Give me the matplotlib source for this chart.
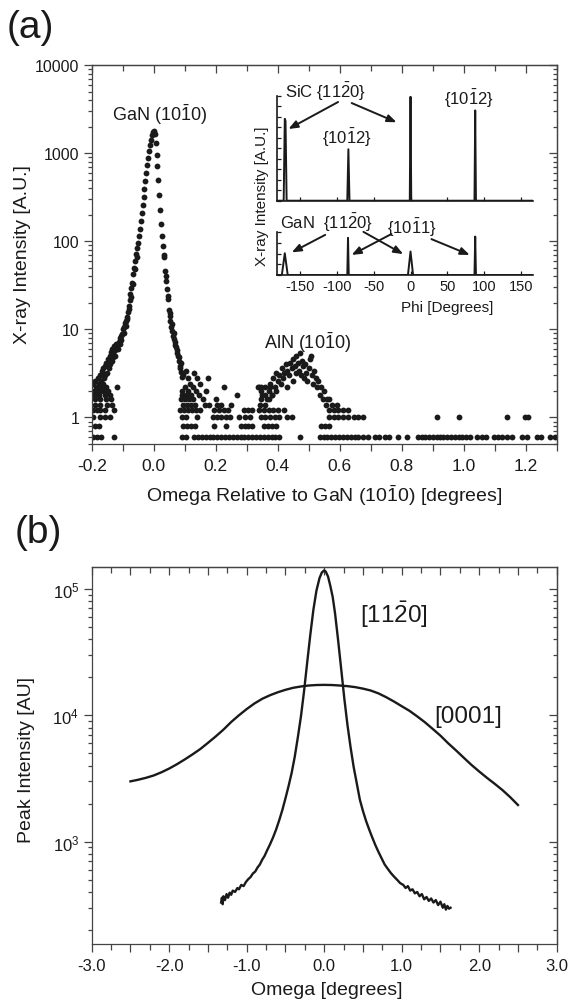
import matplotlib
matplotlib.use('Agg')
import matplotlib.pyplot as plt
from matplotlib.ticker import MultipleLocator, FuncFormatter, LogLocator, NullFormatter

plt.rcParams['font.family'] = ['Liberation Sans', 'DejaVu Sans']
plt.rcParams['mathtext.fontset'] = 'custom'
plt.rcParams['mathtext.rm'] = 'Liberation Sans'
plt.rcParams['mathtext.it'] = 'Liberation Sans:italic'
plt.rcParams['mathtext.bf'] = 'Liberation Sans:bold'
plt.rcParams['mathtext.default'] = 'regular'
plt.rcParams['axes.unicode_minus'] = False

INK = '#1a1a1a'
AXC = '#444444'

# ---- panel (a): omega scan, GaN peak flanks
left_flank_x = [-0.120, -0.117, -0.114, -0.111, -0.108, -0.105, -0.102, -0.099, -0.096, -0.093,
                -0.090, -0.087, -0.084, -0.081, -0.078, -0.075, -0.072, -0.069, -0.066, -0.063,
                -0.060, -0.057, -0.054, -0.051, -0.048, -0.045, -0.042, -0.039, -0.036, -0.033,
                -0.030, -0.027, -0.024, -0.021, -0.018, -0.015, -0.012, -0.009, -0.006, -0.003, 0.000]
left_flank_y = [6.3, 6.6, 6.0, 7.2, 7.9, 8.5, 8.9, 10, 10.5, 11.7,
                12.6, 13.8, 15.8, 18.6, 21.4, 25, 29.5, 34, 42, 50,
                59, 71, 83, 95, 115, 138, 170, 209, 257, 316,
                389, 479, 589, 724, 871, 1047, 1230, 1413, 1585, 1738, 1780]
right_flank_x = [0.003, 0.006, 0.009, 0.012, 0.015, 0.018, 0.021, 0.024, 0.027, 0.030,
                 0.033, 0.036, 0.039, 0.042, 0.045, 0.048, 0.051, 0.054, 0.057, 0.060,
                 0.063, 0.066, 0.069, 0.072, 0.075, 0.078, 0.081, 0.084, 0.087, 0.090]
right_flank_y = [1660, 1318, 955, 708, 501, 331, 224, 158, 115, 89,
                 66, 46, 35, 29, 24, 16.6, 14.1, 12.6, 10.5, 9.5,
                 8.5, 7.8, 7.1, 6.3, 5.8, 5.0, 4.4, 3.8, 3.3, 2.9]
extra_x = [-0.110, -0.104, -0.097, -0.091, -0.085, -0.079, -0.073, -0.067, -0.061, -0.055,
           0.034, 0.040, 0.046, 0.052, 0.058, 0.064, 0.070, 0.076, 0.082,
           0.085, 0.088, 0.095, 0.105, 0.112, 0.118, 0.129, 0.140, 0.150, 0.175]
extra_y = [6.9, 7.6, 9.2, 11.0, 13.2, 17.0, 23, 33, 48, 66,
           70, 40, 22, 15.5, 11.6, 9.0, 6.6, 5.4, 4.9,
           3.6, 4.2, 3.0, 3.4, 2.8, 2.4, 3.2, 2.8, 2.4, 2.8]
tail_x = [-0.197, -0.193, -0.190, -0.186, -0.182, -0.179, -0.177, -0.172, -0.170, -0.168,
          -0.165, -0.163, -0.160, -0.158, -0.156, -0.153, -0.150, -0.147, -0.145, -0.142,
          -0.140, -0.138, -0.136, -0.134, -0.132, -0.130, -0.128, -0.126, -0.124, -0.122]
tail_y = [2.4, 1.8, 2.6, 2.2, 2.0, 2.8, 2.4, 3.0, 2.6, 3.4,
          2.4, 3.6, 2.8, 3.8, 3.0, 4.2, 3.2, 4.6, 3.6, 5.0,
          4.0, 5.6, 4.4, 6.0, 4.8, 5.4, 6.4, 5.0, 5.8, 6.8]
aln_x = [0.336, 0.345, 0.350, 0.360, 0.366, 0.372, 0.375, 0.380,
         0.385, 0.390, 0.395, 0.400, 0.405, 0.410, 0.412, 0.418, 0.420, 0.425, 0.430, 0.428,
         0.435, 0.440, 0.445, 0.448, 0.450, 0.455, 0.458, 0.460, 0.465, 0.468, 0.470, 0.474,
         0.478, 0.480, 0.485, 0.488, 0.490,
         0.495, 0.500, 0.503, 0.506, 0.510, 0.515, 0.518, 0.522, 0.525, 0.530, 0.535, 0.540,
         0.545, 0.550, 0.556, 0.560]
aln_y = [2.2, 2.2, 1.8, 2.2, 1.6, 2.0, 2.4, 1.8,
         2.8, 2.2, 3.2, 2.6, 3.0, 2.4, 3.6, 2.8, 3.2, 4.0, 3.4, 2.2,
         3.0, 4.2, 3.6, 2.6, 4.6, 3.8, 3.2, 5.0, 4.2, 3.4, 5.4, 3.0,
         4.4, 3.8, 2.8, 4.0, 3.2,
         2.6, 3.6, 4.6, 5.0, 3.0, 2.4, 3.4, 2.8, 2.2, 2.6, 1.8, 2.2,
         1.6, 2.0, 1.4, 1.6]

# quantised low-count levels
levels = [0.6, 0.8, 1.0, 1.2, 1.4, 1.6, 1.8, 2.0, 2.2]
base06_x = [-0.195, -0.183, -0.171, -0.128, 0.090, 0.103,
            0.130, 0.142, 0.155, 0.167, 0.180, 0.192, 0.205, 0.217, 0.230, 0.242, 0.255,
            0.267, 0.280, 0.292, 0.305, 0.317, 0.330, 0.342, 0.355, 0.367, 0.380, 0.392, 0.405,
            0.472,
            0.535, 0.548, 0.560, 0.573, 0.585, 0.598, 0.610, 0.623, 0.635, 0.648, 0.660, 0.673, 0.690,
            0.712, 0.725, 0.745, 0.757, 0.787, 0.815,
            0.852, 0.864, 0.876, 0.888, 0.900, 0.912, 0.924, 0.934,
            0.947, 0.959, 0.971, 0.983, 0.995, 1.007, 1.018,
            1.043, 1.057, 1.071, 1.096, 1.110, 1.124, 1.140, 1.156,
            1.187, 1.203, 1.234, 1.250, 1.278, 1.294]
base08_x = [-0.190, -0.175, 0.095, 0.107, 0.120, 0.133, 0.193, 0.233, 0.280, 0.293, 0.305, 0.318,
            0.355, 0.368, 0.380, 0.393, 0.540, 0.553, 0.566]
base10_x = [-0.195, -0.173, -0.157, -0.141, 0.090, 0.103, 0.140, 0.190, 0.205, 0.218, 0.232, 0.245,
            0.275, 0.295, 0.310, 0.345, 0.360, 0.375, 0.390, 0.405, 0.430, 0.445,
            0.565, 0.580, 0.595, 0.610, 0.625, 0.645, 0.660, 0.675,
            0.913, 0.984, 1.140, 1.197, 1.208]
base12_x = [-0.195, -0.183, -0.173, -0.157, -0.128, 0.085, 0.097, 0.110, 0.123, 0.135, 0.148,
            0.195, 0.210, 0.225, 0.240, 0.290, 0.305, 0.318, 0.340, 0.355, 0.370, 0.385, 0.400,
            0.420, 0.565, 0.580, 0.595, 0.610, 0.625]
base14_x = [-0.190, -0.173, -0.152, -0.136, 0.095, 0.108, 0.120, 0.132, 0.165, 0.178, 0.205,
            0.218, 0.250, 0.342, 0.358, 0.575, 0.590]
base16_x = [-0.188, -0.172, -0.155, -0.138, 0.088, 0.100, 0.115, 0.128, 0.160, 0.200, 0.345,
            0.370, 0.565]
base18_x = [-0.190, -0.176, -0.158, -0.140, 0.090, 0.105, 0.120, 0.145, 0.268, 0.360, 0.380]
base20_x = [-0.193, -0.178, -0.162, -0.146, 0.092, 0.110, 0.135, 0.170, 0.345, 0.395]
base22_x = [-0.170, -0.155, -0.118, 0.100, 0.125, 0.227, 0.340, 0.375]
level_x = [base06_x, base08_x, base10_x, base12_x, base14_x, base16_x, base18_x, base20_x, base22_x]

# ---- inset: phi scans
sic_phi = [-182, -172.5, -171, -170, -168.5, -86, -84.5, -83, -1, 0, 1, 87, 88, 89, 167]
sic_int = [0, 0, 0.78, 0.76, 0, 0, 0.49, 0, 0, 0.99, 0, 0, 0.86, 0, 0]
gan_phi = [-182, -175, -171, -167, -86, -85, -84, -3.5, 0, 3.5, 87, 88, 89, 167]
gan_int = [0, 0, 0.51, 0, 0, 0.87, 0, 0, 0.55, 0, 0, 0.90, 0, 0]

# ---- panel (b): rocking curves
c1120_x = [-1.33, -1.32, -1.31, -1.30, -1.28, -1.26, -1.24, -1.22, -1.20, -1.18, -1.15, -1.12,
           -1.10, -1.07, -1.04, -1.01, -0.98, -0.95, -0.92, -0.89, -0.86, -0.83, -0.80, -0.77,
           -0.74, -0.70, -0.66, -0.62, -0.58, -0.54, -0.50, -0.46, -0.42, -0.38, -0.34, -0.30,
           -0.26, -0.22, -0.18, -0.14, -0.10, -0.06, -0.03, 0.00, 0.02, 0.05, 0.08, 0.11, 0.14,
           0.18, 0.22, 0.26, 0.30, 0.34, 0.38, 0.42, 0.46, 0.50, 0.54, 0.58, 0.62, 0.66, 0.70,
           0.74, 0.78, 0.82, 0.86, 0.90, 0.94, 0.98, 1.02, 1.05, 1.08, 1.11, 1.14, 1.17, 1.20,
           1.23, 1.26, 1.29, 1.32, 1.35, 1.38, 1.41, 1.44, 1.47, 1.50, 1.53, 1.55, 1.57, 1.59,
           1.61, 1.63]
c1120_y = [330, 360, 320, 370, 345, 385, 360, 395, 380, 410, 400, 430,
           420, 455, 445, 480, 505, 525, 560, 580, 625, 660, 720, 770,
           845, 950, 1080, 1250, 1480, 1780, 2200, 2750, 3500, 4700, 6700, 9800,
           15500, 26000, 43000, 68000, 97000, 122000, 135000, 140000, 137000, 125000, 105000, 86000, 64000,
           39000, 23000, 13500, 8400, 5600, 3900, 2900, 2150, 1750, 1460, 1250, 1080, 940, 830,
           740, 660, 610, 565, 530, 500, 470, 455, 430, 445, 410, 420, 390, 400,
           370, 385, 350, 365, 340, 355, 330, 345, 315, 335, 300, 320, 290, 310,
           295, 300]
c0001_x = [-2.5, -2.4, -2.3, -2.2, -2.1, -2.0, -1.9, -1.8, -1.7, -1.6, -1.5, -1.4, -1.3, -1.2,
           -1.1, -1.0, -0.9, -0.8, -0.7, -0.6, -0.5, -0.4, -0.3, -0.2, -0.1, 0.0, 0.1, 0.2,
           0.3, 0.4, 0.5, 0.6, 0.7, 0.8, 0.9, 1.0, 1.1, 1.2, 1.3, 1.4, 1.5, 1.6, 1.7, 1.8,
           1.9, 2.0, 2.1, 2.2, 2.3, 2.4, 2.5]
c0001_y = [3000, 3090, 3200, 3340, 3540, 3790, 4100, 4470, 4900, 5400, 6050, 6800, 7700, 8850,
           10000, 11200, 12400, 13500, 14400, 15200, 15900, 16500, 16900, 17200, 17350, 17400, 17350, 17200,
           17000, 16700, 16250, 15700, 14900, 13900, 12850, 11800, 10850, 9800, 8800, 7800, 6900, 6000,
           5280, 4620, 4050, 3590, 3200, 2870, 2560, 2250, 1950]

W, H = 568.0, 1004.0


def fx(px):
    return px / W


def fy(py):
    return 1.0 - py / H


def style_frame(ax):
    for s in ax.spines.values():
        s.set_color(AXC)
        s.set_linewidth(0.9)


def mirror_ticks(ax, xmaj, xmin):
    # top and right ticks point inward, bottom and left point outward
    top = ax.secondary_xaxis('top')
    top.xaxis.set_major_locator(MultipleLocator(xmaj))
    top.xaxis.set_minor_locator(MultipleLocator(xmin))
    top.tick_params(which='both', direction='in', labeltop=False, color=AXC, width=0.9)
    top.tick_params(which='major', length=6)
    top.tick_params(which='minor', length=4)
    right = ax.secondary_yaxis('right')
    right.yaxis.set_major_locator(LogLocator(base=10, numticks=12))
    right.yaxis.set_minor_locator(LogLocator(base=10, subs=(2, 3, 4, 5, 6, 7, 8, 9), numticks=12))
    right.yaxis.set_minor_formatter(NullFormatter())
    right.tick_params(which='both', direction='in', labelright=False, color=AXC, width=0.9)
    right.tick_params(which='major', length=6)
    right.tick_params(which='minor', length=3)
    for sec in (top, right):
        for s in sec.spines.values():
            s.set_color(AXC)
            s.set_linewidth(0.9)


def fmt1(v, p):
    return '%.1f' % (0.0 if abs(v) < 1e-9 else v)


fig = plt.figure(figsize=(5.68, 10.04), dpi=100)

# ================= panel (a)
ax_a = fig.add_axes([fx(91.7), fy(445), (557 - 91.7) / W, (445 - 66) / H])
dot = dict(ls='none', marker='o', ms=4.2, mew=0, color=INK)
ax_a.plot(left_flank_x, left_flank_y, **dot)
ax_a.plot(right_flank_x, right_flank_y, **dot)
ax_a.plot(extra_x, extra_y, **dot)
ax_a.plot(tail_x, tail_y, **dot)
ax_a.plot(aln_x, aln_y, **dot)
for lv, xs in zip(levels, level_x):
    ax_a.plot(xs, [lv] * len(xs), **dot)

ax_a.set_yscale('log')
ax_a.set_xlim(-0.2, 1.3)
ax_a.set_ylim(0.5, 10000)
ax_a.xaxis.set_major_locator(MultipleLocator(0.2))
ax_a.xaxis.set_minor_locator(MultipleLocator(0.1))
ax_a.xaxis.set_major_formatter(FuncFormatter(fmt1))
ax_a.yaxis.set_major_locator(LogLocator(base=10, numticks=12))
ax_a.yaxis.set_minor_locator(LogLocator(base=10, subs=(2, 3, 4, 5, 6, 7, 8, 9), numticks=12))
ax_a.yaxis.set_major_formatter(FuncFormatter(lambda v, p: '%g' % v))
ax_a.yaxis.set_minor_formatter(NullFormatter())
ax_a.tick_params(which='both', direction='out', color=AXC, labelcolor=INK, width=0.9)
ax_a.tick_params(axis='x', which='both', length=5, pad=5, labelsize=12.5)
ax_a.tick_params(axis='y', which='major', length=6, pad=3, labelsize=11.5)
ax_a.tick_params(axis='y', which='minor', length=3)
style_frame(ax_a)
mirror_ticks(ax_a, 0.2, 0.1)

ax_a.text(0.018, 2770, r'GaN (10$\bar{1}$0)', ha='center', va='center', fontsize=13, color=INK)
ax_a.text(0.494, 7.3, r'AlN (10$\bar{1}$0)', ha='center', va='center', fontsize=13, color=INK)

# ================= inset
ins_w = (533.3 - 276.7) / W
ins_top = fig.add_axes([fx(276.7), fy(201.7), ins_w, (201.7 - 96.7) / H])
ins_bot = fig.add_axes([fx(276.7), fy(276), ins_w, (276 - 233.3) / H])
ins_top.plot(sic_phi, sic_int, color=INK, lw=1.4)
ins_bot.plot(gan_phi, gan_int, color=INK, lw=1.4)
for ax, ystep in ((ins_top, 0.1), (ins_bot, 0.25)):
    ax.set_facecolor('none')
    ax.set_xlim(-182, 167)
    ax.set_ylim(0, 1)
    ax.spines['top'].set_visible(False)
    ax.spines['right'].set_visible(False)
    for s in ('left', 'bottom'):
        ax.spines[s].set_color(INK)
        ax.spines[s].set_linewidth(1.2)
    ax.xaxis.set_major_locator(MultipleLocator(50))
    ax.yaxis.set_major_locator(MultipleLocator(ystep))
    ax.tick_params(which='both', direction='in', length=3, color=INK, width=0.9,
                   labelleft=False, labelsize=10.5, labelcolor=INK, pad=3)
ins_top.tick_params(labelbottom=False)

arrow = dict(arrowstyle='-|>,head_length=0.55,head_width=0.22', color=INK, lw=1.4,
             shrinkA=0, shrinkB=0)
ins_top.text(-115, 1.045, r'SiC {11$\bar{2}$0}', ha='center', va='center', fontsize=12, color=INK)
ins_top.annotate('', xy=(-166, 0.683), xytext=(-98.5, 0.94), arrowprops=arrow)
ins_top.annotate('', xy=(-19, 0.747), xytext=(-80, 0.93), arrowprops=arrow)
ins_top.text(-86.5, 0.607, r'{10$\bar{1}$2}', ha='center', va='center', fontsize=12, color=INK)
ins_top.text(79, 0.975, r'{10$\bar{1}$2}', ha='center', va='center', fontsize=12, color=INK)

ins_bot.text(-114, 1.25, r'GaN  {11$\bar{2}$0}', ha='center', va='center', fontsize=12, color=INK)
ins_bot.text(1.4, 1.12, r'{10$\bar{1}$1}', ha='center', va='center', fontsize=12, color=INK)
ins_bot.annotate('', xy=(-161.5, 0.53), xytext=(-116, 0.94), arrowprops=arrow, annotation_clip=False)
ins_bot.annotate('', xy=(-10, 0.49), xytext=(-64, 1.01), arrowprops=arrow, annotation_clip=False)
ins_bot.annotate('', xy=(-80, 0.47), xytext=(-26, 0.96), arrowprops=arrow, annotation_clip=False)
ins_bot.annotate('', xy=(80.5, 0.47), xytext=(28.5, 0.84), arrowprops=arrow, annotation_clip=False)

fig.text(fx(261.7), fy(196), 'X-ray Intensity [A.U.]', rotation=90, ha='center', va='center',
         fontsize=11, color=INK)
fig.text(fx(447), fy(308), 'Phi [Degrees]', ha='center', va='center', fontsize=11, color=INK)

# ================= panel (b)
ax_b = fig.add_axes([fx(91.7), fy(945), (556.7 - 91.7) / W, (945 - 568) / H])
ax_b.plot(c0001_x, c0001_y, color=INK, lw=1.7)
ax_b.plot(c1120_x, c1120_y, color=INK, lw=1.7)
ax_b.set_yscale('log')
ax_b.set_xlim(-3, 3)
ax_b.set_ylim(155, 1.49e5)
ax_b.xaxis.set_major_locator(MultipleLocator(0.5))
ax_b.xaxis.set_minor_locator(MultipleLocator(0.25))
ax_b.xaxis.set_major_formatter(FuncFormatter(
    lambda v, p: fmt1(v, p) if abs(v - round(v)) < 1e-6 else ''))
ax_b.yaxis.set_major_locator(LogLocator(base=10, numticks=12))
ax_b.yaxis.set_minor_locator(LogLocator(base=10, subs=(2, 3, 4, 5, 6, 7, 8, 9), numticks=12))
ax_b.yaxis.set_minor_formatter(NullFormatter())
ax_b.tick_params(which='both', direction='out', color=AXC, labelcolor=INK, width=0.9, labelsize=12)
ax_b.tick_params(axis='x', which='major', length=6, pad=4)
ax_b.tick_params(axis='x', which='minor', length=4)
ax_b.tick_params(axis='y', which='major', length=6, pad=3)
ax_b.tick_params(axis='y', which='minor', length=3)
style_frame(ax_b)
mirror_ticks(ax_b, 0.5, 0.25)

ax_b.text(0.894, 63100, r'[11$\bar{2}$0]', ha='center', va='center', fontsize=17.5, color=INK)
ax_b.text(1.856, 9950, '[0001]', ha='center', va='center', fontsize=17.5, color=INK)

# ================= labels
fig.text(fx(30), fy(28), '(a)', ha='center', va='center', fontsize=28, color=INK)
fig.text(fx(38), fy(533), '(b)', ha='center', va='center', fontsize=28, color=INK)
fig.text(fx(23), fy(255), 'X-ray Intensity [A.U.]', rotation=90, ha='center', va='center',
         fontsize=14, color=INK)
fig.text(fx(324), fy(496), r'Omega Relative to GaN (10$\bar{1}$0) [degrees]', ha='center',
         va='center', fontsize=14, color=INK)
fig.text(fx(27), fy(760), 'Peak Intensity [AU]', rotation=90, ha='center', va='center',
         fontsize=14, color=INK)
fig.text(fx(327), fy(991), 'Omega [degrees]', ha='center', va='center', fontsize=14, color=INK)

fig.savefig('out.png', dpi=100)
